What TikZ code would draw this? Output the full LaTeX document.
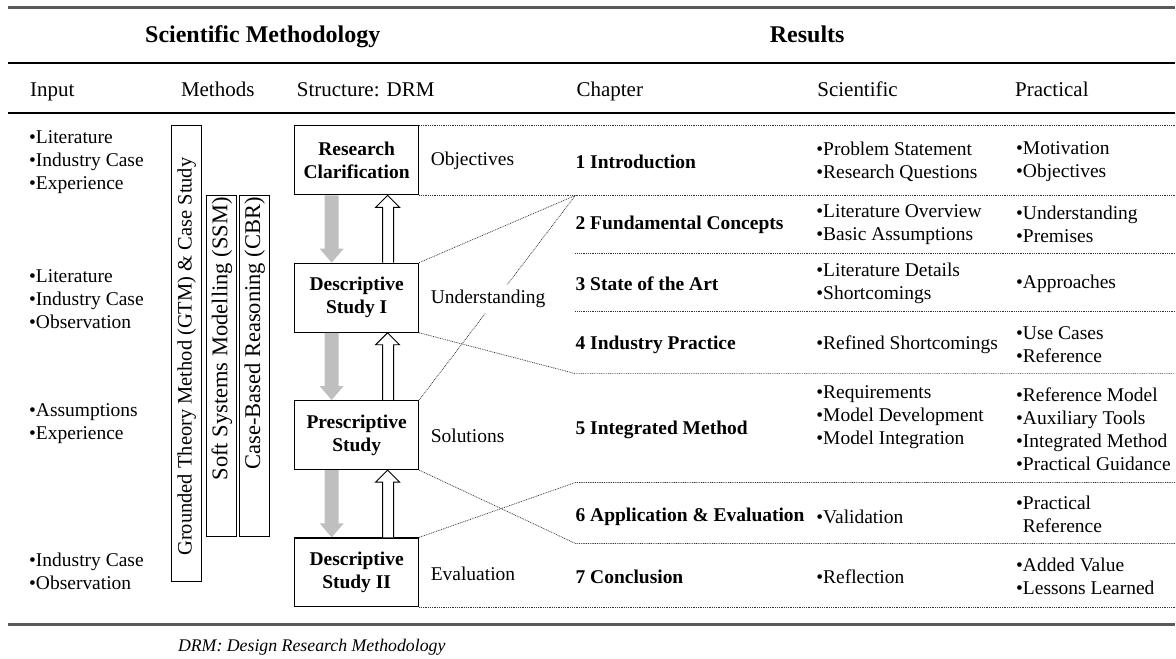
\documentclass[tikz,border=0pt]{standalone}
\usepackage{fontspec}
\setmainfont{Liberation Serif}
\usetikzlibrary{calc}
\newcommand\drmtxt{\fontsize{19.5}{23}\selectfont}
% block arrows between two consecutive DRM stages: grey downward, white upward
\newcommand\stagearrows[2]{%
  \fill[grayarrow] ($(#1.south)+(-32,0)$) -- ($(#1.south)+(-18,0)$)
    -- ($(#2.north)+(-18,-14)$) -- ($(#2.north)+(-13,-14)$)
    -- ($(#2.north)+(-25,0)$) -- ($(#2.north)+(-37,-14)$)
    -- ($(#2.north)+(-32,-14)$) -- cycle;
  \draw[whitearrow] ($(#2.north)+(26,0)$) -- ($(#1.south)+(26,12)$)
    -- ($(#1.south)+(19,12)$) -- ($(#1.south)+(31,0)$)
    -- ($(#1.south)+(43,12)$) -- ($(#1.south)+(37,12)$)
    -- ($(#2.north)+(37,0)$);
}
\begin{document}
\begin{tikzpicture}[x=1pt,y=-1pt,
  every node/.style={inner sep=0pt, font=\drmtxt},
  rule/.style={line width=1.6pt, black},
  outerrule/.style={line width=2.4pt, black!65},
  dotline/.style={line width=0.7pt, black!80, dash pattern=on 0.9pt off 0.9pt},
  stage/.style={draw, line width=1.2pt, minimum width=124pt, minimum height=69pt,
    align=center, font=\drmtxt\bfseries},
  methodbar/.style={draw, line width=1.1pt, minimum width=30pt},
  lbl/.style={anchor=west},
  items/.style={anchor=west, align=left},
  chap/.style={anchor=west, font=\drmtxt\bfseries},
  colhead/.style={anchor=base west, font=\fontsize{21}{25}\selectfont},
  mainhead/.style={anchor=base, font=\fontsize{24}{28}\selectfont\bfseries},
  grayarrow/.style={fill=black!25},
  whitearrow/.style={draw, line width=0.9pt, fill=white, line join=miter}]

\fill[white] (0,0) rectangle (1176,659);

% horizontal rules
\draw[outerrule] (8,7.5) -- (1176,7.5);
\draw[rule] (8,63) -- (1176,63);
\draw[rule] (8,113) -- (1176,113);
\draw[outerrule] (8,625) -- (1176,625);

% headers
\node[mainhead] (hsm) at (263,43) {Scientific Methodology};
\node[mainhead] (hres) at (808,43) {Results};
\node[colhead] (hin) at (30,97) {Input};
\node[colhead] (hme) at (181,97) {Methods};
\node[colhead] (hst) at (297,97) {Structure: DRM};
\node[colhead] (hch) at (577,97) {Chapter};
\node[colhead] (hsc) at (818,97) {Scientific};
\node[colhead] (hpr) at (1016,97) {Practical};

% input
\node[items] (i1) at (29,162) {•Literature\\•Industry Case\\•Experience};
\node[items] (i2) at (29,299) {•Literature\\•Industry Case\\•Observation};
\node[items] (i3) at (29,424) {•Assumptions\\•Experience};
\node[items] (i4) at (29,571.5) {•Industry Case\\•Observation};

% methods
\node[methodbar, minimum height=456pt] (gtm) at (187,354) {};
\node[rotate=90, font=\fontsize{20.5}{24}\selectfont] (gtmt) at ($(gtm.center)+(0,3)$)
  {Grounded Theory Method (GTM) \& Case Study};
\node[methodbar, minimum height=341pt] (ssm) at (222,366.5) {};
\node[rotate=90, anchor=east, font=\fontsize{22.5}{26}\selectfont] (ssmt)
  at ($(ssm.north)+(0,2)$) {Soft Systems Modelling (SSM)};
\node[methodbar, minimum height=341pt] (cbr) at (255,366.5) {};
\node[rotate=90, anchor=east, font=\fontsize{22.5}{26}\selectfont] (cbrt)
  at ($(cbr.north)+(0,2)$) {Case-Based Reasoning (CBR)};

% DRM stages
\node[stage] (rc) at (357,160.5) {Research\\Clarification};
\node[stage] (ds1) at (357,298) {Descriptive\\Study I};
\node[stage] (ps) at (357,435.5) {Prescriptive\\Study};
\node[stage] (ds2) at (357,573) {Descriptive\\Study II};
\stagearrows{rc}{ds1}
\stagearrows{ds1}{ps}
\stagearrows{ps}{ds2}

% row boundaries and mapping lines
\coordinate (re) at (1176,0);
\coordinate (hx) at (576,0);
\coordinate (hub) at (hx |- rc.south);
\coordinate (b23) at (576,254);
\coordinate (b34) at (576,312);
\coordinate (b45) at (576,374);
\coordinate (b56) at (576,483);
\coordinate (b67) at (576,544);
\draw[dotline] (rc.north east) -- (rc.north east -| re);
\draw[dotline] (rc.south east) -- (rc.south east -| re);
\draw[dotline] (ds1.north east) -- (hub);
\draw[dotline] (ps.north east) -- (hub);
\draw[dotline] (b23) -- (b23 -| re);
\draw[dotline] (b34) -- (b34 -| re);
\draw[dotline] (ds1.south east) -- (b45) -- (b45 -| re);
\draw[dotline] (ds2.north east) -- (b56) -- (b56 -| re);
\draw[dotline] (ps.south east) -- (b67) -- (b67 -| re);
\draw[dotline] (ds2.south east) -- (ds2.south east -| re);

% stage results
\node[lbl] (obj) at (431,161) {Objectives};
\node[lbl, fill=white, inner sep=5pt] (und) at (426,299) {Understanding};
\node[lbl] (sol) at (431,436) {Solutions};
\node[lbl] (eva) at (431,574) {Evaluation};

% chapters
\node[chap] (ch1) at (576,162) {1 Introduction};
\node[chap] (ch2) at (576,225) {2 Fundamental Concepts};
\node[chap] (ch3) at (576,284) {3 State of the Art};
\node[chap] (ch4) at (576,345) {4 Industry Practice};
\node[chap] (ch5) at (576,430) {5 Integrated Method};
\node[chap] (ch6) at (576,517) {6 Application \& Evaluation};
\node[chap] (ch7) at (576,577) {7 Conclusion};

% scientific results
\node[items] (s1) at (817,161.5) {•Problem Statement\\•Research Questions};
\node[items] (s2) at (817,225) {•Literature Overview\\•Basic Assumptions};
\node[items] (s3) at (817,284) {•Literature Details\\•Shortcomings};
\node[items] (s4) at (817,345) {•Refined Shortcomings};
\node[items] (s5) at (817,418) {•Requirements\\•Model Development\\•Model Integration};
\node[items] (s6) at (817,517) {•Validation};
\node[items] (s7) at (817,577) {•Reflection};

% practical results
\node[items] (p1) at (1017,161.5) {•Motivation\\•Objectives};
\node[items] (p2) at (1017,225) {•Understanding\\•Premises};
\node[items] (p3) at (1017,284) {•Approaches};
\node[items] (p4) at (1017,345) {•Use Cases\\•Reference};
\node[items] (p5) at (1017,429.5) {•Reference Model\\•Auxiliary Tools\\•Integrated Method\\•Practical Guidance};
\node[items] (p6) at (1017,515) {•Practical\\\phantom{•}Reference};
\node[items] (p7) at (1017,577) {•Added Value\\•Lessons Learned};

% caption
\node[anchor=west, font=\fontsize{17.8}{21}\selectfont\itshape] (cap) at (178,648)
  {DRM: Design Research Methodology};
\end{tikzpicture}
\end{document}
